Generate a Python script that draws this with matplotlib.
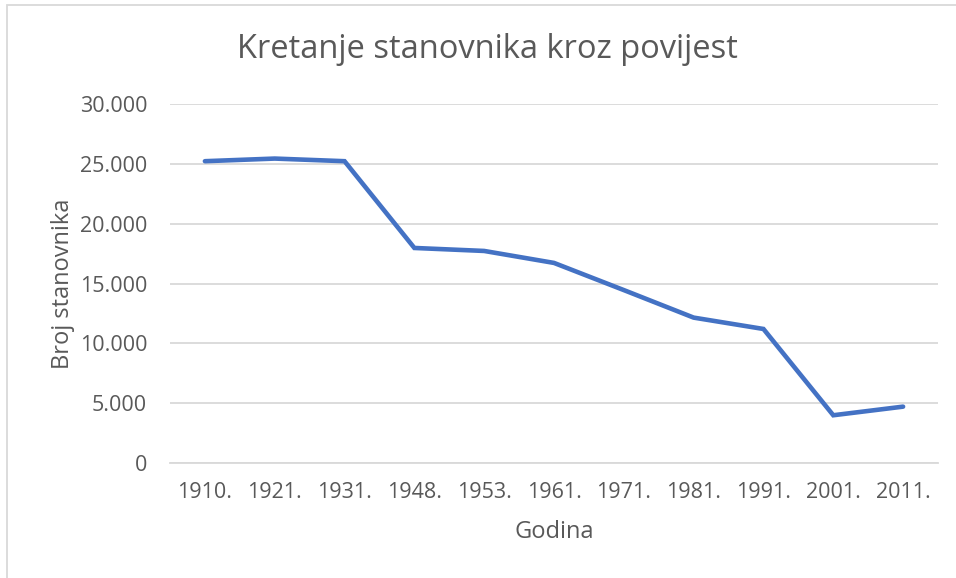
import matplotlib
matplotlib.use("Agg")
import matplotlib.pyplot as plt
from matplotlib.patches import Rectangle
from matplotlib.ticker import FuncFormatter

# podaci (procjena sa slike)
godine = ["1910.", "1921.", "1931.", "1948.", "1953.", "1961.",
          "1971.", "1981.", "1991.", "2001.", "2011."]
stanovnici = [25220, 25440, 25220, 17970, 17720, 16720,
              14450, 12150, 11200, 3990, 4710]
y_ticks = [0, 5000, 10000, 15000, 20000, 25000, 30000]

siva = "#595959"
plt.rcParams["font.family"] = ["Open Sans", "DejaVu Sans"]

fig = plt.figure(figsize=(9.56, 5.78), dpi=100)
W, H = 956, 578
ax = fig.add_axes([170 / W, 1 - 463 / H, 768 / W, 359 / H])

x = list(range(len(godine)))
ax.plot(x, stanovnici, color="#4472C4", linewidth=3.3,
        solid_capstyle="round", solid_joinstyle="miter", zorder=3)

ax.set_xlim(-0.5, len(godine) - 0.5)
ax.set_ylim(0, 30000)
ax.set_yticks(y_ticks)
ax.yaxis.set_major_formatter(FuncFormatter(lambda v, p: f"{int(v):,}".replace(",", ".")))
ax.set_xticks(x)
ax.set_xticklabels(godine)

ax.grid(axis="y", color="#d9d9d9", linewidth=1.3, zorder=0)
for s in ["top", "right", "left"]:
    ax.spines[s].set_visible(False)
ax.spines["bottom"].set_color("#d9d9d9")
ax.spines["bottom"].set_linewidth(1.3)
ax.tick_params(axis="both", length=0, labelsize=15.5, labelcolor=siva)
ax.tick_params(axis="y", pad=16.5)
ax.tick_params(axis="x", pad=14)

ax.set_ylabel("Broj stanovnika", fontsize=17, color=siva, labelpad=3)
ax.set_xlabel("Godina", fontsize=17, color=siva, labelpad=12)
fig.text(487 / W, 1 - 50 / H, "Kretanje stanovnika kroz povijest",
         fontsize=23.5, color=siva, fontweight="normal", ha="center", va="center")

# okvir grafikona
fig.patches.append(Rectangle((7 / W, -0.1), 1.2, 1 - 5 / H + 0.1,
                             transform=fig.transFigure, fill=False,
                             edgecolor="#d9d9d9", linewidth=1.3))

fig.savefig("out.png", dpi=100)
